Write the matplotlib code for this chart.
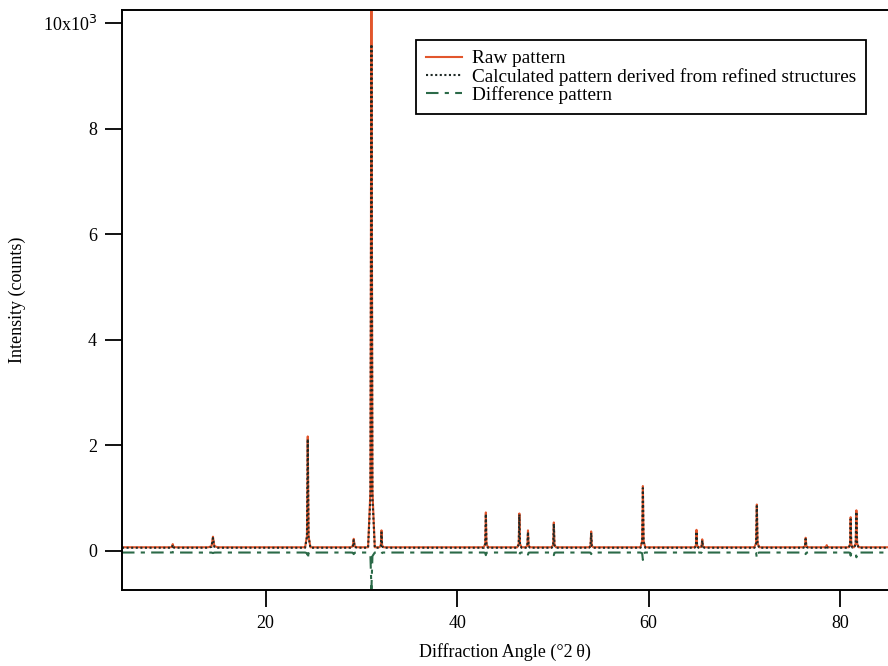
import matplotlib
matplotlib.use("Agg")
import matplotlib.pyplot as plt
from matplotlib.lines import Line2D

# peak table (2-theta in degrees, intensity in counts)
peak_pos = [10.3, 14.5, 24.4, 29.2, 31.05, 32.1, 43.0, 46.5, 47.4, 50.1,
            54.0, 59.4, 65.0, 65.6, 71.3, 76.4, 78.6, 81.1, 81.7]
peak_halfwidth = [0.25, 0.5, 0.28, 0.35, 0.35, 0.22, 0.22, 0.22, 0.22, 0.22,
                  0.22, 0.25, 0.2, 0.25, 0.25, 0.25, 0.25, 0.2, 0.25]
raw_height = [130, 270, 2170, 230, 10800, 390, 730, 710, 390, 540,
              370, 1230, 400, 220, 880, 250, 110, 640, 770]
calc_height = [115, 245, 2120, 205, 9600, 350, 700, 690, 360, 515,
               345, 1190, 365, 200, 850, 225, 100, 600, 740]
diff_dip = [-20, -40, -150, -60, -720, -50, -80, -90, -70, -80,
            -60, -170, -80, -50, -130, -60, -30, -90, -120]

raw_background = 70
calc_background = 60
diff_background = -30
angle_range = (5, 85)


def _profile(heights, background):
    xs = [angle_range[0]]
    ys = [background]
    for c, w, h in zip(peak_pos, peak_halfwidth, heights):
        xs += [c - w, c - 0.3 * w, c - 0.06 * w, c, c + 0.06 * w, c + 0.3 * w, c + w]
        rise = h - background
        ys += [background, background + 0.1 * rise, background + 0.8 * rise, h,
               background + 0.8 * rise, background + 0.1 * rise, background]
    xs.append(angle_range[1])
    ys.append(background)
    return xs, ys


raw_x, raw_y = _profile(raw_height, raw_background)
calc_x, calc_y = _profile(calc_height, calc_background)
diff_x, diff_y = _profile(diff_dip, diff_background)

RAW_COLOR = "#e2562c"
CALC_COLOR = "#1f2a26"
DIFF_COLOR = "#2b6a48"
CALC_STYLE = (0, (1, 1.2))
DIFF_STYLE = (0, (6, 3, 2, 3))

plt.rcParams["font.family"] = ["Liberation Serif", "DejaVu Serif"]

fig = plt.figure(figsize=(8.88, 6.66), dpi=100)
ax = fig.add_axes([122 / 888, 1 - 590 / 666, 766 / 888, 580 / 666])

ax.plot(raw_x, raw_y, color=RAW_COLOR, linewidth=1.5)
ax.plot(calc_x, calc_y, color=CALC_COLOR, linewidth=1.5, linestyle=CALC_STYLE)
ax.plot(diff_x, diff_y, color=DIFF_COLOR, linewidth=1.5, linestyle=DIFF_STYLE)

ax.set_xlim(*angle_range)
ax.set_ylim(-740, 10250)
ax.set_xticks([20, 40, 60, 80])
ax.set_yticks([0, 2000, 4000, 6000, 8000, 10000])
ax.set_yticklabels(["0", "2", "4", "6", "8", r"10x10$^{3}$"])
ax.tick_params(direction="out", length=12, width=1.3, labelsize=13, pad=6)
for side in ("left", "bottom", "top"):
    ax.spines[side].set_linewidth(1.4)
ax.spines["right"].set_visible(False)

ax.set_xlabel("Diffraction Angle (°2\u2009θ)", fontsize=13, labelpad=8)
ax.set_ylabel("Intensity (counts)", fontsize=13)
ax.yaxis.set_label_coords(-0.125, 0.5)

handles = [
    Line2D([], [], color=RAW_COLOR, linewidth=1.5),
    Line2D([], [], color=CALC_COLOR, linewidth=1.5, linestyle=CALC_STYLE),
    Line2D([], [], color=DIFF_COLOR, linewidth=1.5, linestyle=DIFF_STYLE),
]
labels = ["Raw pattern", "Calculated pattern derived from refined structures", "Difference pattern"]
leg = ax.legend(handles, labels, loc="upper right", bbox_to_anchor=(0.971, 0.948),
                borderaxespad=0, fontsize=13.9, handlelength=1.9, handletextpad=0.5,
                labelspacing=0.02, fancybox=False, edgecolor="black", framealpha=1,
                borderpad=0.5)
leg.get_frame().set_linewidth(1.3)

fig.savefig("out.png", dpi=100)
